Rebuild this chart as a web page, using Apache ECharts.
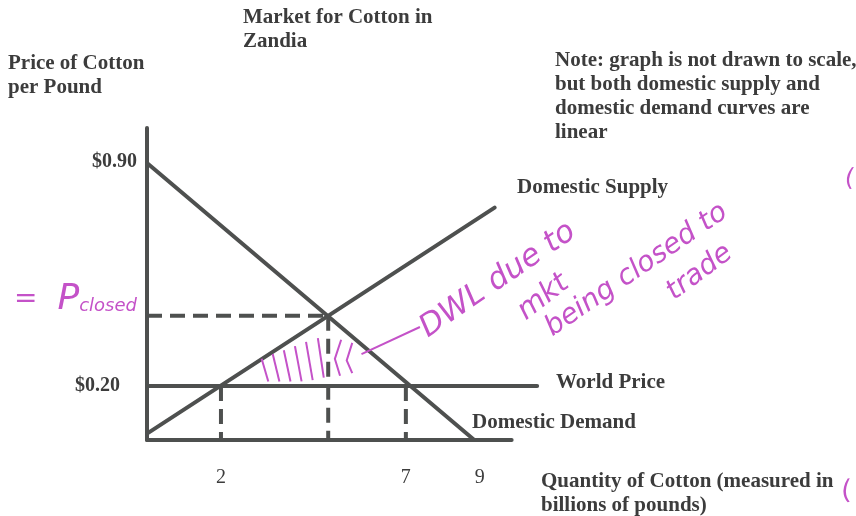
<!DOCTYPE html>
<html>
<head>
<meta charset="utf-8">
<title>Market for Cotton in Zandia</title>
<script src="https://cdn.jsdelivr.net/npm/echarts@6/dist/echarts.min.js"></script>
<style>
  html, body { margin: 0; padding: 0; background: #ffffff; }
  #chart { width: 856px; height: 516px; }
</style>
</head>
<body>
<div id="chart"></div>
<script>
// Sketch of the cotton market (not drawn to scale).
const quantityTicks = [2, 7, 9];
const priceTicks = [0.20, 0.90];

const demandQ = [0, 8.85];
const demandP = [0.90, 0.03];
const supplyQ = [0, 9.4];
const supplyP = [0.05, 0.76];

const worldPrice = 0.20;
const worldQ = [0, 10.55];

const closedPrice = 0.42;    // autarky price where supply meets demand
const closedQty = 4.9;
const tradeQty = [2, 7];     // domestic supply and demand at the world price

const axisFloor = 0.03;      // price level at which the quantity axis sits
const axisEnd = 9.86;

// Hand-drawn hatching of the deadweight-loss triangle, plus the pointer stroke
const hatch = [
  [[3.10, 0.285], [3.28, 0.214]],
  [[3.40, 0.300], [3.58, 0.214]],
  [[3.70, 0.312], [3.88, 0.214]],
  [[4.00, 0.325], [4.18, 0.214]],
  [[4.30, 0.338], [4.48, 0.218]],
  [[4.62, 0.350], [4.78, 0.226]],
  [[5.25, 0.345], [5.08, 0.285], [5.22, 0.232]],
  [[5.55, 0.335], [5.40, 0.280], [5.55, 0.240]],
  [[5.80, 0.300], [7.38, 0.385]]
];

const ink = '#4e504f';
const pink = '#c452c8';
const serif = '"Liberation Serif", "Times New Roman", serif';
const hand = '"DejaVu Sans", sans-serif';

const chart = echarts.init(document.getElementById('chart'), null, { renderer: 'canvas' });

function seg(q1, p1, q2, p2) { return [[q1, p1], [q2, p2]]; }

function solid(data, z) {
  return {
    type: 'line', data: data, symbol: 'none', clip: false, silent: true, z: z || 3,
    lineStyle: { color: ink, width: 4, cap: 'round' }
  };
}
function dashed(data) {
  return {
    type: 'line', data: data, symbol: 'none', clip: false, silent: true, z: 2,
    lineStyle: { color: ink, width: 4, type: [15, 8] }
  };
}

const textStyle = { font: 'bold 21px ' + serif, fill: '#3c3c3c', lineHeight: 24 };
function label(left, top, text) {
  return { type: 'text', left: left, top: top, silent: true, style: Object.assign({ text: text }, textStyle) };
}
function scrawl(x, y, rot, text, size) {
  return {
    type: 'text', x: x, y: y, rotation: rot, silent: true,
    style: { text: text, font: 'italic ' + (size || 24) + 'px ' + hand, fill: pink, verticalAlign: 'bottom' }
  };
}

const option = {
  animation: false,
  backgroundColor: '#ffffff',
  grid: { left: 147, top: 128, width: 392, height: 312 },
  xAxis: {
    type: 'value', min: 0, max: 10.6,
    axisLine: { show: false },
    axisTick: { show: false },
    splitLine: { show: false },
    axisLabel: {
      customValues: quantityTicks, margin: 28,
      fontFamily: serif, fontSize: 20, color: '#3c3c3c'
    }
  },
  yAxis: {
    type: 'value', min: axisFloor, max: 1.01,
    axisLine: { show: true, lineStyle: { color: ink, width: 4 } },
    axisTick: { show: false },
    splitLine: { show: false },
    axisLabel: {
      customValues: priceTicks, margin: 10,
      formatter: function (v) {
        const s = '$' + v.toFixed(2);
        return v < 0.5 ? '{low|' + s + '}' : '{high|' + s + '}';
      },
      rich: {
        high: { fontFamily: serif, fontSize: 20, fontWeight: 'bold', color: '#3c3c3c', padding: [0, 0, 2, 0] },
        low: { fontFamily: serif, fontSize: 20, fontWeight: 'bold', color: '#3c3c3c', padding: [0, 17, 0, 0] }
      }
    }
  },
  series: [
    solid(seg(0, axisFloor, axisEnd, axisFloor), 4),
    solid(seg(demandQ[0], demandP[0], demandQ[1], demandP[1])),
    solid(seg(supplyQ[0], supplyP[0], supplyQ[1], supplyP[1])),
    solid(seg(worldQ[0], worldPrice, worldQ[1], worldPrice)),
    dashed(seg(0, closedPrice, closedQty, closedPrice)),
    dashed(seg(closedQty, closedPrice, closedQty, axisFloor)),
    dashed(seg(tradeQty[0], worldPrice, tradeQty[0], axisFloor)),
    dashed(seg(tradeQty[1], worldPrice, tradeQty[1], axisFloor)),
    {
      type: 'lines', coordinateSystem: 'cartesian2d', polyline: true, silent: true, z: 5,
      data: hatch.map(function (c) { return { coords: c }; }),
      lineStyle: { color: pink, width: 2, opacity: 1 }
    }
  ],
  graphic: [
    label(243, 6, 'Market for Cotton in\nZandia'),
    label(8, 52, 'Price of Cotton\nper Pound'),
    label(555, 49, 'Note: graph is not drawn to scale,\nbut both domestic supply and\ndomestic demand curves are\nlinear'),
    label(517, 176, 'Domestic Supply'),
    label(556, 371, 'World Price'),
    label(472, 411, 'Domestic Demand'),
    label(541, 470, 'Quantity of Cotton (measured in\nbillions of pounds)'),
    {
      type: 'text', left: 14, top: 282, silent: true,
      style: {
        text: '{eq|=}{p|P}{s|closed}',
        rich: {
          eq: { font: '28px ' + hand, fill: pink, padding: [0, 20, 0, 0] },
          p: { font: 'italic 36px ' + hand, fill: pink },
          s: { font: 'italic 18px ' + hand, fill: pink, padding: [12, 0, 0, 0] }
        }
      }
    },
    scrawl(432, 344, 0.6, 'DWL due to', 31),
    scrawl(530, 326, 0.66, 'mkt', 29),
    scrawl(556, 342, 0.6, 'being closed to', 28),
    scrawl(678, 306, 0.64, 'trade', 28),
    scrawl(846, 192, 0.1, '(', 24),
    scrawl(844, 506, 0.2, '(', 26)
  ]
};

chart.setOption(option);
</script>
</body>
</html>
